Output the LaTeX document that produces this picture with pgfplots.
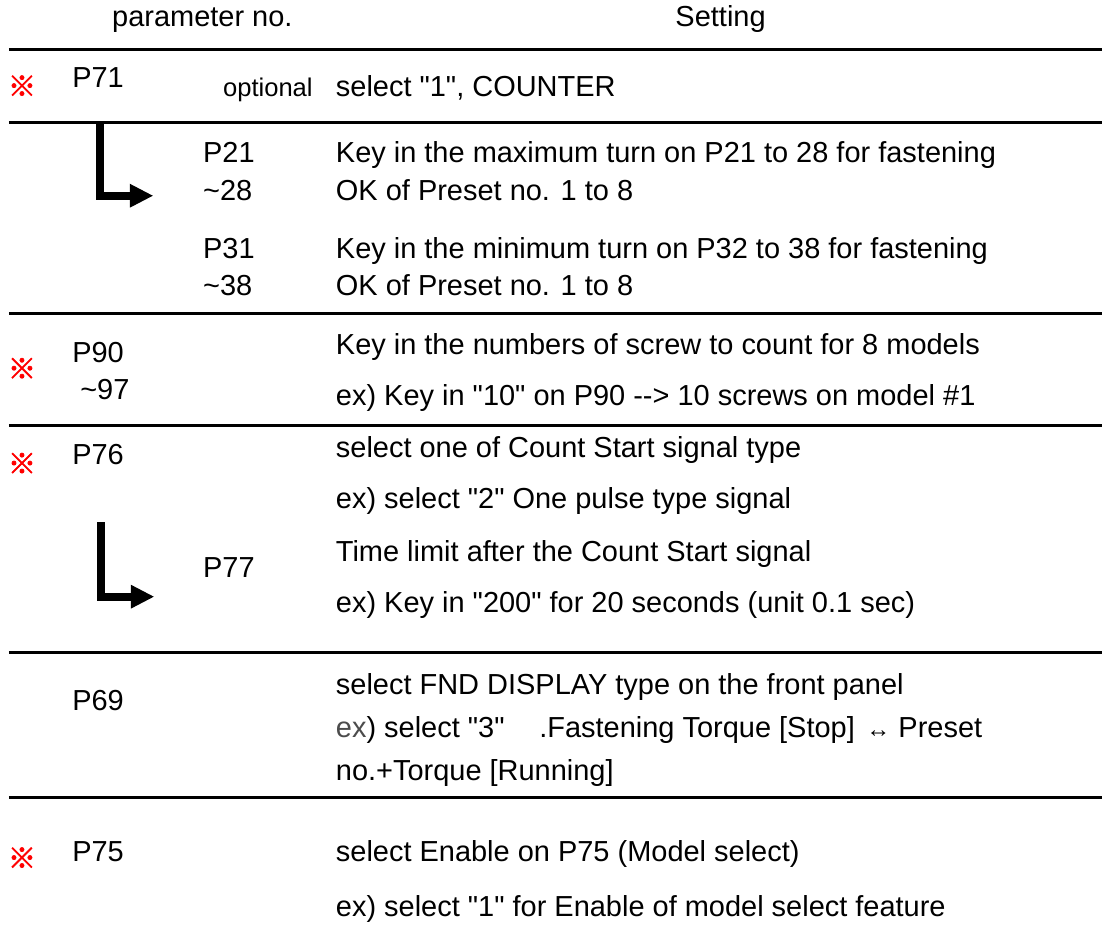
\documentclass[border=0pt]{standalone}
\usepackage{fontspec}
\setmainfont{Liberation Sans}
\newfontfamily\lib{Liberation Sans}
\newfontfamily\cjk{Noto Sans CJK SC}[FakeBold=2.5]
\usepackage{pgfplots}
\pgfplotsset{compat=1.18}
\tikzset{t/.style={font=\lib\fontsize{14.5}{17}\selectfont, inner sep=0pt, anchor=base west},
  mk/.style={text=red, font=\cjk\fontsize{14}{14}\selectfont, inner sep=0pt, anchor=center}}
\begin{document}
\begin{tikzpicture}
\begin{axis}[width=551.5pt,height=476pt,scale only axis,
  xmin=0,xmax=1103,ymin=0,ymax=952,y dir=reverse,
  axis lines=none,ticks=none,clip=false,no markers]
\addplot[draw=none] coordinates {(0,0) (1103,952)};
% rules
\addplot[line width=1.5pt] coordinates {(9,50) (1103,50)};
\addplot[line width=1.5pt] coordinates {(9,123) (1103,123)};
\addplot[line width=1.5pt] coordinates {(9,314) (1103,314)};
\addplot[line width=1.5pt] coordinates {(9,426) (1103,426)};
\addplot[line width=1.5pt] coordinates {(9,653) (1103,653)};
\addplot[line width=1.5pt] coordinates {(9,799) (1103,799)};
% arrows
\addplot[line width=4pt, line join=miter] coordinates {(100,122) (100,196) (131,196)};
\addplot[fill=black, draw=none] coordinates {(130,184) (153,196) (130,208)};
\addplot[line width=4pt, line join=miter] coordinates {(101,523) (101,597.5) (132,597.5)};
\addplot[fill=black, draw=none] coordinates {(131,585.5) (154,597.5) (131,609.5)};
% header
\node[t] at (112,27) {parameter no.};
\node[t] at (676,27) {Setting};
% P71
\node[mk] at (22,86) {※};
\node[t] at (72,88) {P71};
\node[t, font=\lib\fontsize{12.8}{15}\selectfont] at (223,97) {optional};
\node[t] at (336,97) {select "1", COUNTER};
\node[t] at (203,163) {P21};
\node[t] at (203,201) {\textasciitilde28};
\node[t] at (336,163) {Key in the maximum turn on P21 to 28 for fastening};
\node[t] at (336,201) {OK of Preset no. 1 to 8};
\node[t] at (203,259) {P31};
\node[t] at (203,296) {\textasciitilde38};
\node[t] at (336,259) {Key in the minimum turn on P32 to 38 for fastening};
\node[t] at (336,296) {OK of Preset no. 1 to 8};
% P90
\node[mk] at (22,369) {※};
\node[t] at (72,363) {P90};
\node[t] at (80,400) {\textasciitilde97};
\node[t] at (336,355) {Key in the numbers of screw to count for 8 models};
\node[t] at (336,406) {ex) Key in "10" on P90 --> 10 screws on model \#1};
% P76
\node[mk] at (22,464) {※};
\node[t] at (72,465) {P76};
\node[t] at (336,458) {select one of Count Start signal type};
\node[t] at (336,509) {ex) select "2" One pulse type signal};
\node[t] at (203,578) {P77};
\node[t] at (336,562) {Time limit after the Count Start signal};
\node[t] at (336,613) {ex) Key in "200" for 20 seconds (unit 0.1 sec)};
% P69
\node[t] at (72,711) {P69};
\node[t] at (336,695) {select FND DISPLAY type on the front panel};
\node[t] at (336,739) {{\color{black!70}ex}) select "3"\hspace{1.2em}.Fastening Torque [Stop]\hspace{0.4em}{\fontsize{12}{12}\selectfont ↔} Preset};
\node[t] at (336,782) {no.+Torque [Running]};
% P75
\node[mk] at (22,859) {※};
\node[t] at (72,863) {P75};
\node[t] at (336,863) {select Enable on P75 (Model select)};
\node[t] at (336,918) {ex) select "1" for Enable of model select feature};
\end{axis}
\end{tikzpicture}
\end{document}
